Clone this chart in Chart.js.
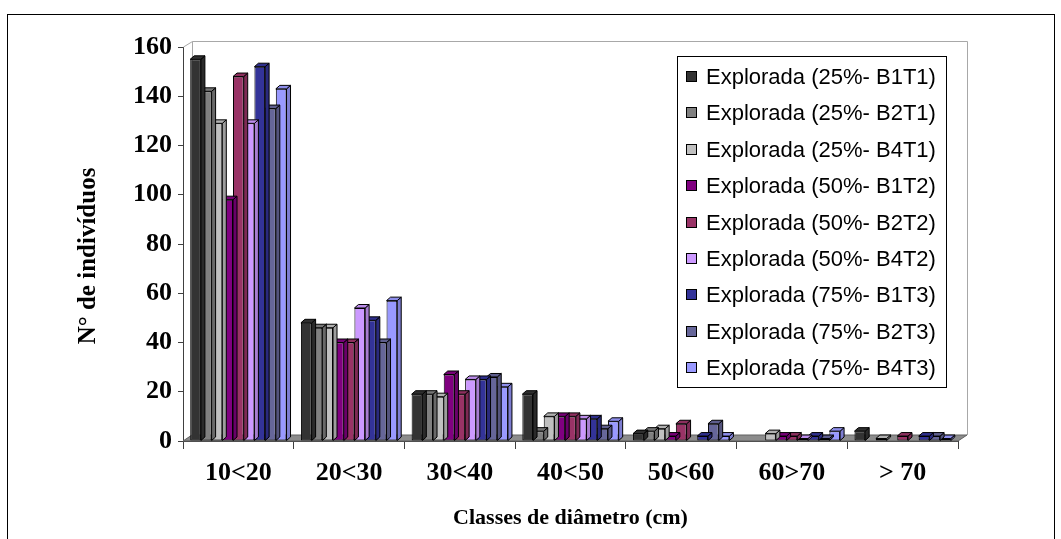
<!DOCTYPE html>
<html><head><meta charset="utf-8">
<script src="https://cdn.jsdelivr.net/npm/chart.js@4.4.1/dist/chart.umd.min.js"></script>
<style>html,body{margin:0;padding:0;background:#fff;overflow:hidden}#wrap{width:1061px;height:539px;position:relative}</style>
</head><body><div id="wrap"><canvas id="c" width="1061" height="539"></canvas></div>
<script>
const categories = ['10<20', '20<30', '30<40', '40<50', '50<60', '60>70', '> 70'];
const seriesNames = ['Explorada (25%- B1T1)', 'Explorada (25%- B2T1)', 'Explorada (25%- B4T1)',
  'Explorada (50%- B1T2)', 'Explorada (50%- B2T2)', 'Explorada (50%- B4T2)',
  'Explorada (75%- B1T3)', 'Explorada (75%- B2T3)', 'Explorada (75%- B4T3)'];
const B1T1 = [155, 48, 19, 19, 3, 0, 4];
const B2T1 = [142, 46, 19, 4, 4, 0, 0];
const B4T1 = [129, 46, 18, 10, 5, 3, 1];
const B1T2 = [98, 40, 27, 10, 2, 2, 0];
const B2T2 = [148, 40, 19, 10, 7, 2, 2];
const B4T2 = [129, 54, 25, 9, 0, 1, 0];
const B1T3 = [152, 49, 25, 9, 2, 2, 2];
const B2T3 = [135, 40, 26, 5, 7, 1, 2];
const B4T3 = [143, 57, 22, 8, 2, 4, 1];
const yTickValues = [0, 20, 40, 60, 80, 100, 120, 140, 160];
const yTitle = 'N° de indivíduos';
const xTitle = 'Classes de diâmetro (cm)';

const seriesValues = [B1T1, B2T1, B4T1, B1T2, B2T2, B4T2, B1T3, B2T3, B4T3];
const colors = ['#333333', '#808080', '#c0c0c0', '#800080', '#993366', '#cc99ff', '#333399', '#666699', '#9999ff'];

function shade(hex, f) {
  const n = parseInt(hex.slice(1), 16);
  const r = Math.round(((n >> 16) & 255) * f), g = Math.round(((n >> 8) & 255) * f), b = Math.round((n & 255) * f);
  return `rgb(${r},${g},${b})`;
}

const WALL_DX = 9, WALL_DY = 6, BAR_DX = 4, BAR_DY = 3.5;
const SERIF = '"Liberation Serif", "Times New Roman", serif';

const framePlugin = {
  id: 'frame3d',
  beforeDraw(chart) {
    const ctx = chart.ctx;
    ctx.save();
    ctx.fillStyle = '#ffffff';
    ctx.fillRect(0, 0, chart.width, chart.height);
    ctx.strokeStyle = '#000';
    ctx.lineWidth = 1;
    ctx.strokeRect(7.5, 14.5, 1047, 540);
    ctx.restore();
  },
  beforeDatasetsDraw(chart) {
    const ctx = chart.ctx, a = chart.chartArea;
    const L = a.left, R = a.right, T = a.top, B = a.bottom;
    ctx.save();
    ctx.fillStyle = '#8c8c8c';
    ctx.beginPath();
    ctx.moveTo(L, B); ctx.lineTo(R, B); ctx.lineTo(R + WALL_DX, B - WALL_DY); ctx.lineTo(L + WALL_DX, B - WALL_DY);
    ctx.closePath(); ctx.fill();
    ctx.strokeStyle = '#606060'; ctx.lineWidth = 1; ctx.stroke();
    ctx.strokeStyle = '#a8a8a8';
    ctx.beginPath();
    ctx.moveTo(L + 0.5, T); ctx.lineTo(L + WALL_DX + 0.5, T - WALL_DY + 0.5);
    ctx.lineTo(R + WALL_DX + 0.5, T - WALL_DY + 0.5);
    ctx.lineTo(R + WALL_DX + 0.5, B - WALL_DY);
    ctx.moveTo(L + WALL_DX + 0.5, T - WALL_DY + 0.5); ctx.lineTo(L + WALL_DX + 0.5, B - WALL_DY);
    ctx.stroke();
    ctx.restore();
  },
  afterDatasetDraw(chart, args) {
    const ctx = chart.ctx;
    const meta = chart.getDatasetMeta(args.index);
    const col = colors[args.index];
    ctx.save();
    ctx.lineWidth = 1;
    ctx.strokeStyle = '#000';
    meta.data.forEach((bar, j) => {
      const v = chart.data.datasets[args.index].data[j];
      if (!v) return;
      const p = bar.getProps(['x', 'y', 'base', 'width'], true);
      const x1 = p.x - p.width / 2, x2 = p.x + p.width / 2, yt = p.y, yb = p.base;
      ctx.fillStyle = shade(col, 0.82);
      ctx.beginPath();
      ctx.moveTo(x2, yt); ctx.lineTo(x2 + BAR_DX, yt - BAR_DY); ctx.lineTo(x2 + BAR_DX, yb - BAR_DY); ctx.lineTo(x2, yb);
      ctx.closePath(); ctx.fill(); ctx.stroke();
      ctx.fillStyle = shade(col, 0.92);
      ctx.beginPath();
      ctx.moveTo(x1, yt); ctx.lineTo(x1 + BAR_DX, yt - BAR_DY); ctx.lineTo(x2 + BAR_DX, yt - BAR_DY); ctx.lineTo(x2, yt);
      ctx.closePath(); ctx.fill(); ctx.stroke();
    });
    ctx.restore();
  },
  afterDraw(chart) {
    const ctx = chart.ctx;
    ctx.save();
    // y axis title
    ctx.fillStyle = '#000';
    ctx.font = 'bold 25px ' + SERIF;
    ctx.textAlign = 'center';
    ctx.textBaseline = 'middle';
    ctx.translate(89, 256);
    ctx.rotate(-Math.PI / 2);
    ctx.fillText(yTitle, 0, 0);
    ctx.restore();

    ctx.save();
    const bx = 677.5, by = 56.5, bw = 269, bh = 331;
    ctx.fillStyle = '#fff';
    ctx.fillRect(bx, by, bw, bh);
    ctx.strokeStyle = '#000'; ctx.lineWidth = 1;
    ctx.strokeRect(bx, by, bw, bh);
    ctx.font = '22px "Liberation Sans", Arial, sans-serif';
    ctx.textBaseline = 'middle';
    chart.data.datasets.forEach((ds, i) => {
      const cy = Math.round(77 + i * 36.4);
      ctx.fillStyle = colors[i];
      ctx.fillRect(686.5, cy - 5.5, 10, 10);
      ctx.strokeStyle = '#000';
      ctx.strokeRect(686.5, cy - 5.5, 10, 10);
      ctx.fillStyle = '#000';
      ctx.fillText(ds.label, 706, cy + 1);
    });
    ctx.restore();
  }
};

const datasets = seriesNames.map((name, i) => ({
  label: name,
  data: seriesValues[i],
  backgroundColor: colors[i],
  borderColor: '#000',
  borderWidth: 1,
  borderSkipped: false,
  barPercentage: 1.0,
  categoryPercentage: 0.87
}));

const tickFont = { family: SERIF, weight: 'bold', size: 26 };
const titleFont = { family: SERIF, weight: 'bold', size: 22 };

new Chart(document.getElementById('c'), {
  type: 'bar',
  data: { labels: categories, datasets },
  plugins: [framePlugin],
  options: {
    responsive: false,
    animation: false,
    layout: { padding: { left: 0, top: 47, right: 103, bottom: 0 } },
    plugins: { legend: { display: false }, tooltip: { enabled: false } },
    scales: {
      x: {
        grid: { display: true, drawOnChartArea: false, drawTicks: true, tickLength: 8, color: '#404040', offset: true },
        border: { display: true, color: '#404040' },
        ticks: { color: '#000', font: tickFont, padding: 9, maxRotation: 0 },
        title: { display: true, text: xTitle, color: '#000', font: titleFont, padding: { top: 0, bottom: 7 } },
        afterFit(scale) { scale.height = 98; }
      },
      y: {
        min: 0, max: 160,
        afterBuildTicks(scale) { scale.ticks = yTickValues.map(v => ({ value: v })); },
        grid: { display: true, drawOnChartArea: false, drawTicks: true, tickLength: 5, color: '#404040' },
        border: { display: true, color: '#404040' },
        ticks: { color: '#000', font: tickFont, padding: 6 },
        title: { display: false },
        afterFit(scale) { scale.width = 183; }
      }
    }
  }
});
</script></body></html>
